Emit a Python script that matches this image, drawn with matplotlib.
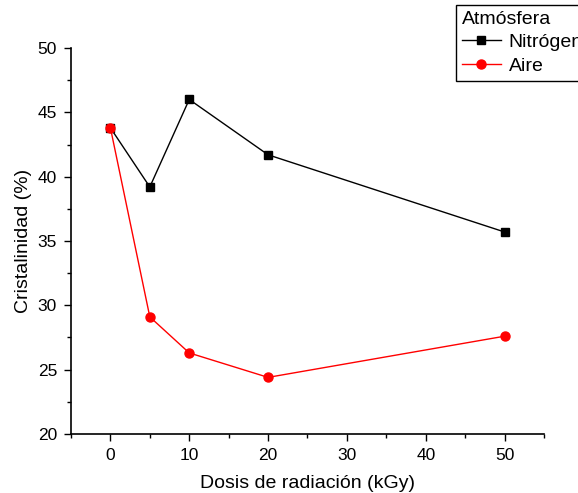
import matplotlib
matplotlib.use("Agg")
import matplotlib.pyplot as plt
from matplotlib.ticker import MultipleLocator

plt.rcParams["font.family"] = ["Liberation Sans", "DejaVu Sans"]

dose = [0, 5, 10, 20, 50]
nitrogeno = [43.8, 39.2, 46.0, 41.7, 35.7]
aire = [43.8, 29.1, 26.3, 24.4, 27.6]

fig = plt.figure(figsize=(5.78, 4.93), dpi=100)
ax = fig.add_axes([0.1228, 0.1197, 0.8184, 0.7829])

ax.plot(dose, nitrogeno, color="black", marker="s", ms=6, lw=1.0, label="Nitrógeno")
ax.plot(dose, aire, color="red", marker="o", ms=6.5, lw=1.0, label="Aire")

ax.set_xlim(-5, 55)
ax.set_ylim(20, 50)
ax.xaxis.set_major_locator(MultipleLocator(10))
ax.xaxis.set_minor_locator(MultipleLocator(5))
ax.yaxis.set_major_locator(MultipleLocator(5))
ax.yaxis.set_minor_locator(MultipleLocator(2.5))
ax.tick_params(which="major", direction="out", length=5, width=1, labelsize=12.5,
               colors="black", pad=5)
ax.tick_params(which="minor", direction="out", length=3, width=1)
for side in ("top", "right"):
    ax.spines[side].set_visible(False)
for side in ("left", "bottom"):
    ax.spines[side].set_linewidth(1.2)

ax.set_xlabel("Dosis de radiación (kGy)", fontsize=14, labelpad=9)
ax.set_ylabel("Cristalinidad (%)", fontsize=14, labelpad=4)

# legend sits against the right edge and gets clipped, like the original
leg = fig.legend(loc="upper left", bbox_to_anchor=(456 / 578, 1 - 5 / 493),
                 borderaxespad=0,
                 title="Atmósfera", fontsize=14, title_fontsize=14, frameon=True,
                 fancybox=False, edgecolor="black", framealpha=1,
                 alignment="left", handlelength=2.0, borderpad=0.3,
                 labelspacing=0.3, handletextpad=0.4)
leg.get_frame().set_linewidth(1.0)

fig.savefig("out.png", dpi=100)
